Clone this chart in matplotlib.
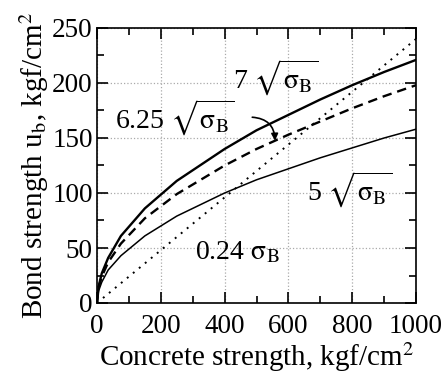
import matplotlib.pyplot as plt
from matplotlib.ticker import MultipleLocator

plt.rcParams['font.family'] = ['Liberation Serif', 'DejaVu Serif']
plt.rcParams['mathtext.fontset'] = 'stix'

# values
x_sqrt = [0, 5, 15, 35, 75, 150, 250, 400, 500, 600, 700, 800, 900, 1000]
u_7 = [0, 15, 27, 41, 61, 86, 111, 140, 157, 171, 185, 198, 210, 221]
u_625 = [0, 14, 24, 37, 54, 77, 99, 125, 140, 153, 165, 177, 188, 198]
u_5 = [0, 11, 19, 30, 43, 61, 79, 100, 112, 122, 132, 141, 150, 158]
x_lin = [0, 200, 400, 600, 800, 1000]
u_lin = [0, 48, 96, 144, 192, 240]

fig = plt.figure(figsize=(4.43, 3.83), dpi=100)
ax = fig.add_axes([97 / 443, 80 / 383, 319 / 443, 275 / 383])

ax.plot(x_sqrt, u_7, color='black', lw=1.7)
ax.plot(x_sqrt, u_625, color='black', lw=1.7, ls=(0, (4, 2.5)))
ax.plot(x_sqrt, u_5, color='black', lw=1.1)
ax.plot(x_lin, u_lin, color='black', lw=1.4, ls=(0, (1, 3)))

ax.set_xlim(0, 1000)
ax.set_ylim(0, 250)
ax.xaxis.set_major_locator(MultipleLocator(200))
ax.xaxis.set_minor_locator(MultipleLocator(100))
ax.yaxis.set_major_locator(MultipleLocator(50))
ax.yaxis.set_minor_locator(MultipleLocator(25))
ax.tick_params(which='both', direction='in', top=True, right=True, width=1.2)
ax.tick_params(which='major', length=8, labelsize=19.5)
ax.tick_params(axis='x', which='major', pad=8)
ax.tick_params(axis='y', which='major', pad=3)
ax.tick_params(which='minor', length=5)
ax.grid(True, which='major', ls=':', color='#aaaaaa', lw=0.9)
for s in ax.spines.values():
    s.set_linewidth(1.2)

ax.set_xlabel('Concrete strength, kgf/cm$^2$', fontsize=21, labelpad=1)
ax.set_ylabel('Bond strength u$_\\mathrm{b}$, kgf/cm$^2$', fontsize=21, labelpad=1)

fs = 20
sig = r'\mathrm{\sigma}_\mathrm{B}'
ax.text(425, 205, r'7 $\sqrt{' + sig + '}$', fontsize=fs, va='center', ha='left')
ax.text(56, 168, r'6.25 $\sqrt{' + sig + '}$', fontsize=fs, va='center', ha='left')
ax.text(658, 103, r'5 $\sqrt{' + sig + '}$', fontsize=fs, va='center', ha='left')
ax.text(307, 46, r'0.24 $' + sig + '$', fontsize=fs, va='center', ha='left')
ax.annotate('', xy=(558, 145), xytext=(478, 169),
            arrowprops=dict(arrowstyle='-|>', color='black', lw=1.2,
                            connectionstyle='arc3,rad=-0.5'))

fig.savefig('out.png', dpi=100)
